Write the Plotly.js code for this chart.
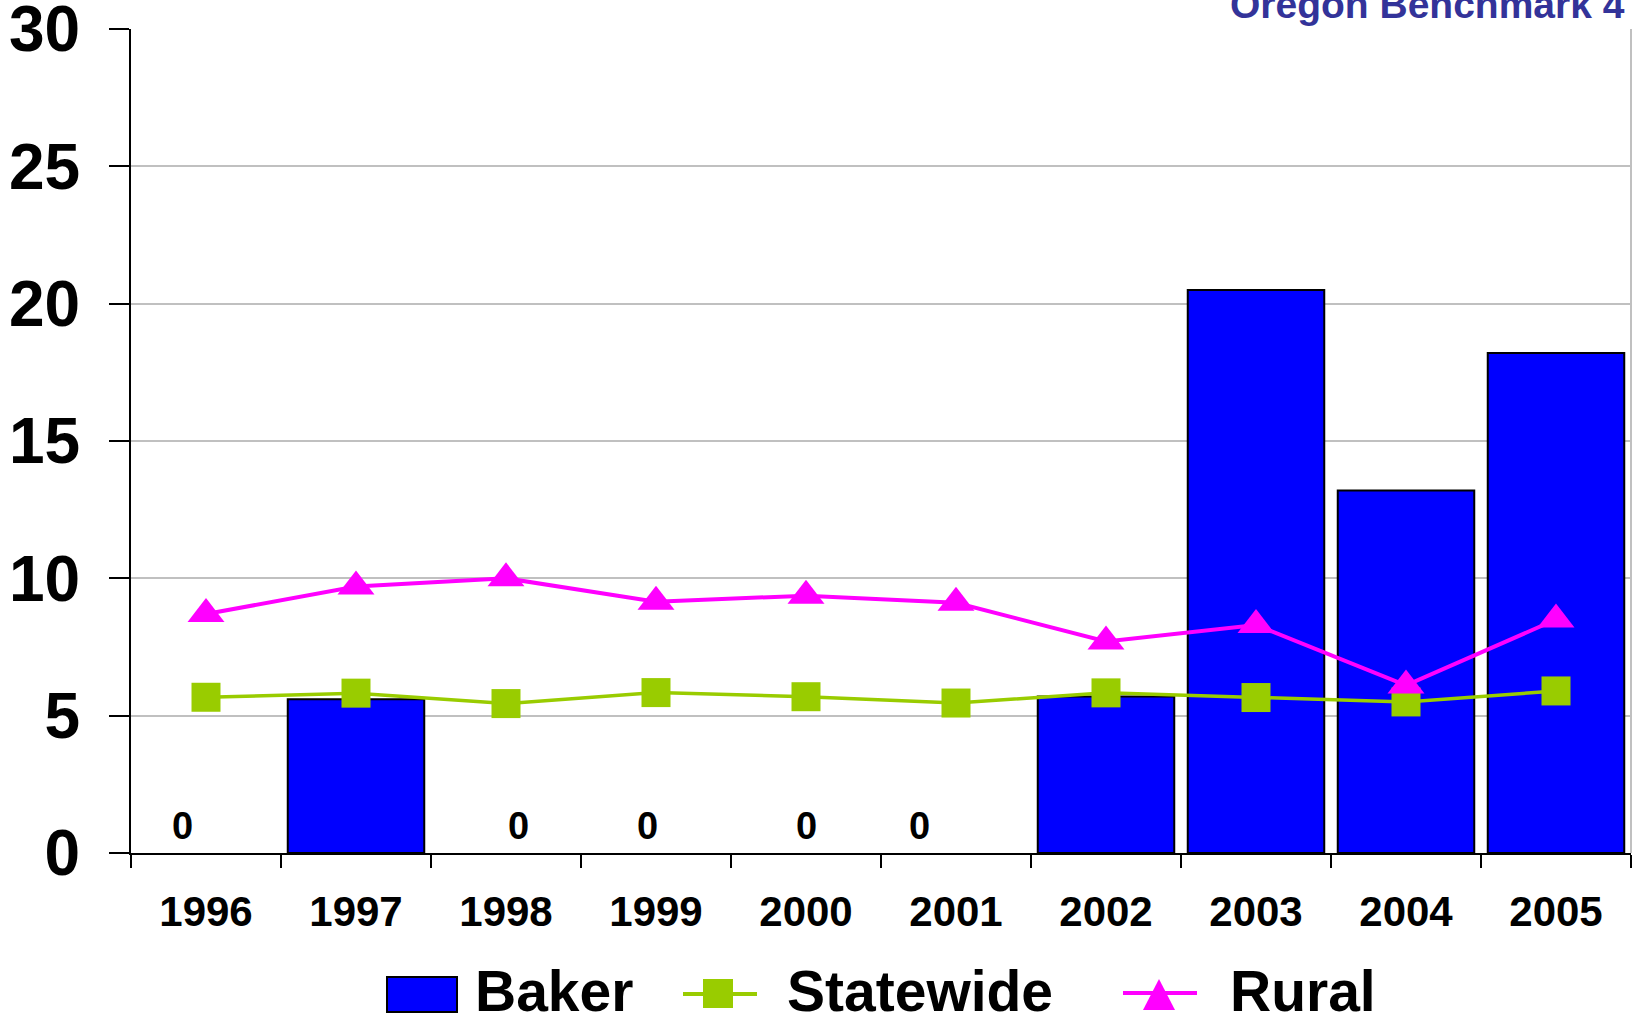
<!DOCTYPE html>
<html>
<head>
<meta charset="utf-8">
<script src="https://cdn.plot.ly/plotly-3.0.1.min.js"></script>
<style>
  html, body { margin: 0; padding: 0; background: #fff; }
  #chart { width: 1638px; height: 1019px; }
</style>
</head>
<body>
<div id="chart"></div>
<script>
// ---- data ----
var years = ['1996','1997','1998','1999','2000','2001','2002','2003','2004','2005'];
var baker = [0, 5.6, 0, 0, 0, 0, 5.7, 20.5, 13.2, 18.2];
var statewide = [5.67, 5.82, 5.44, 5.84, 5.69, 5.46, 5.83, 5.66, 5.5, 5.9];
var rural = [8.7, 9.7, 10.0, 9.15, 9.37, 9.11, 7.7, 8.3, 6.1, 8.5];
var yTicks = [0, 5, 10, 15, 20, 25, 30];
var seriesNames = ['Baker', 'Statewide', 'Rural'];
var titleText = 'Oregon Benchmark 4';

// ---- layout helpers ----
var W = 1638, H = 1019;
var M = {l: 131, r: 7, t: 29, b: 166};
var PW = W - M.l - M.r, PH = H - M.t - M.b;
function px(x) { return (x - M.l) / PW; }
function py(y) { return (H - M.b - y) / PH; }

var FONT = '"Liberation Sans", Arial, Helvetica, sans-serif';
var BLUE = '#0000FF', GREEN = '#99CC00', PINK = '#FF00FF';

// label offsets (pixels) for zero-value labels, by year
var zeroShift = {'1996': -24, '1998': 12, '1999': -9, '2000': 0, '2001': -37};

var traces = [
  {
    type: 'bar', x: years, y: baker, name: seriesNames[0],
    marker: {color: BLUE, line: {color: '#000', width: baker.map(function (v) { return v === 0 ? 0 : 2; })}},
    hoverinfo: 'x+y'
  },
  {
    type: 'scatter', mode: 'lines+markers', x: years, y: statewide, name: seriesNames[1],
    line: {color: GREEN, width: 3.5},
    marker: {symbol: 'square', size: 29, color: GREEN, line: {width: 0}}
  },
  {
    type: 'scatter', mode: 'lines+markers', x: years, y: rural, name: seriesNames[2],
    line: {color: PINK, width: 4},
    marker: {symbol: 'triangle-up', size: 32, color: PINK, line: {width: 0}}
  }
];

var annotations = [];
years.forEach(function (yr, i) {
  if (baker[i] === 0) {
    annotations.push({
      x: i, y: 0, xref: 'x', yref: 'y', text: '<b>' + String(baker[i]) + '</b>',
      showarrow: false, yanchor: 'middle', xanchor: 'center',
      yshift: 27, xshift: zeroShift[yr] || 0,
      font: {family: FONT, size: 38, color: '#000'}
    });
  }
});

// title (top right, partially cut)
annotations.push({
  x: 1, y: py(4), xref: 'paper', yref: 'paper', text: '<b>' + titleText + '</b>',
  showarrow: false, xanchor: 'right', yanchor: 'middle', xshift: -4,
  font: {family: FONT, size: 39, color: '#333399'}
});

// custom legend text
var legendText = [
  {name: seriesNames[0], x: 473},
  {name: seriesNames[1], x: 785},
  {name: seriesNames[2], x: 1228}
];
legendText.forEach(function (it) {
  annotations.push({
    x: px(it.x), y: py(991), xref: 'paper', yref: 'paper', text: '<b>' + it.name + '</b>',
    showarrow: false, xanchor: 'left', yanchor: 'middle',
    font: {family: FONT, size: 57, color: '#000'}
  });
});

var shapes = [
  // right gray border
  {type: 'line', xref: 'paper', yref: 'paper', x0: 1, x1: 1, y0: 0, y1: 1,
   line: {color: '#C0C0C0', width: 2}, layer: 'below'},
  // legend: Baker box
  {type: 'rect', xref: 'paper', yref: 'paper', x0: px(387), x1: px(457), y0: py(1012), y1: py(977),
   fillcolor: BLUE, line: {color: '#000', width: 2}},
  // legend: Statewide line + square
  {type: 'line', xref: 'paper', yref: 'paper', x0: px(683), x1: px(757), y0: py(994), y1: py(994),
   line: {color: GREEN, width: 4}},
  {type: 'rect', xref: 'paper', yref: 'paper', x0: px(703), x1: px(733), y0: py(1008), y1: py(979),
   fillcolor: GREEN, line: {width: 0}},
  // legend: Rural line + triangle
  {type: 'line', xref: 'paper', yref: 'paper', x0: px(1123), x1: px(1197), y0: py(993), y1: py(993),
   line: {color: PINK, width: 4}},
  {type: 'path', xref: 'paper', yref: 'paper',
   path: 'M' + px(1143) + ',' + py(1010) + ' L' + px(1175) + ',' + py(1010) + ' L' + px(1159) + ',' + py(979) + ' Z',
   fillcolor: PINK, line: {width: 0}}
];

var layout = {
  width: W, height: H,
  margin: M,
  paper_bgcolor: '#fff', plot_bgcolor: '#fff',
  showlegend: false,
  bargap: 0.09,
  font: {family: FONT, color: '#000'},
  xaxis: {
    type: 'category',
    tickson: 'boundaries',
    ticks: 'outside', ticklen: 13, tickwidth: 2, tickcolor: '#000',
    showline: true, linecolor: '#000', linewidth: 2,
    showgrid: false, zeroline: false,
    tickfont: {family: FONT, size: 42, color: '#000', weight: 'bold'},
    ticklabelstandoff: 21,
    range: [-0.5, 9.5], fixedrange: true
  },
  yaxis: {
    range: [0, 30], tickvals: yTicks, ticktext: yTicks.map(String),
    ticks: 'outside', ticklen: 20, tickwidth: 2, tickcolor: '#000',
    showline: true, linecolor: '#000', linewidth: 2,
    showgrid: true, gridcolor: '#C0C0C0', gridwidth: 2,
    zeroline: false,
    tickfont: {family: FONT, size: 64, color: '#000', weight: 'bold'},
    ticklabelstandoff: 16,
    ticklabeloverflow: 'allow',
    fixedrange: true
  },
  annotations: annotations,
  shapes: shapes
};

Plotly.newPlot('chart', traces, layout, {displayModeBar: false, staticPlot: true});
</script>
</body>
</html>
